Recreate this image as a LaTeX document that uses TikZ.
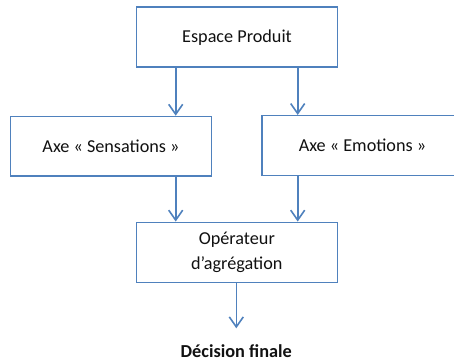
\documentclass[tikz,border=0pt]{standalone}
\usepackage{fontspec}
\setmainfont{Carlito}
\usetikzlibrary{arrows.meta}
\definecolor{boxblue}{HTML}{4F81BD}
\definecolor{txt}{HTML}{111111}
\begin{document}
\begin{tikzpicture}[x=1pt,y=-1pt,
  box/.style={draw=boxblue, line width=1.5pt, minimum width=201pt, minimum height=60pt,
    inner sep=0pt, align=center, text=txt, font=\fontsize{18.2}{24.7}\selectfont},
  conn/.style={draw=boxblue, line width=1.6pt, -{Straight Barb[length=10pt,width=14pt,line width=1.6pt]}}]
\useasboundingbox (0,0) rectangle (454,361);
\clip (0,0) rectangle (454,361);
\node[box] (top) at (237,37.2) {Espace Produit};
\node[box, minimum height=59.5pt] (sens) at (111,146.2) {Axe « Sensations »};
\node[box, minimum height=60pt] (emo) at (362.5,145.7) {Axe « Emotions »};
\node[box] (agg) at (236.8,252.3) {Opérateur\\d’agrégation};
\node[anchor=base, text=txt, inner sep=0pt, font=\fontsize{18.3}{22}\selectfont\bfseries] (dec) at (236.3,357.5) {Décision finale};
\coordinate (decend) at (236.3,328.3);
\draw[conn] (top.south -| 175.7,0) -- (sens.north -| 175.7,0);
\draw[conn] (top.south -| 297.7,0) -- (emo.north -| 297.7,0);
\draw[conn] (sens.south -| 175.7,0) -- (agg.north -| 175.7,0);
\draw[conn] (emo.south -| 297.7,0) -- (agg.north -| 297.7,0);
\draw[conn] (agg.south -| 236.3,0) -- (decend);
\end{tikzpicture}
\end{document}
